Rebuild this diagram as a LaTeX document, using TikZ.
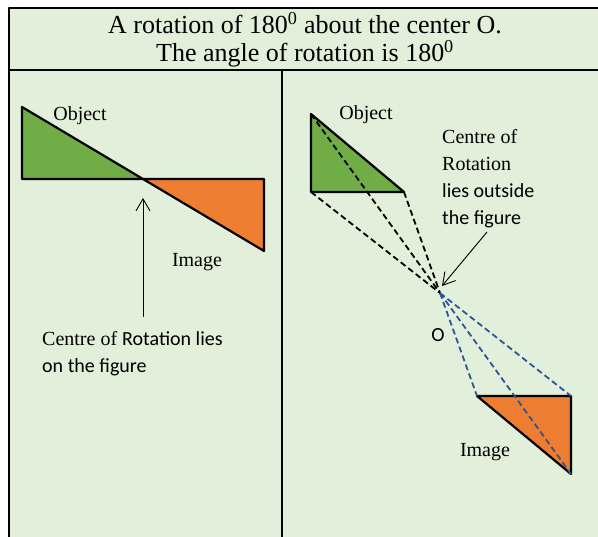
\documentclass[tikz,border=0pt]{standalone}
\usepackage{fontspec}
\setmainfont{Liberation Serif}
\newfontfamily\calibri{Carlito}
\usepackage{xcolor}
\usetikzlibrary{arrows.meta,positioning}
\definecolor{panelgreen}{HTML}{E2EFDA}
\definecolor{objgreen}{HTML}{70AD47}
\definecolor{imgorange}{HTML}{ED7D31}
\definecolor{raynavy}{HTML}{2F5597}
\tikzset{
    every picture/.style={line join=round},
    frameline/.style={draw=black,line width=2pt},
    objtri/.style={draw=black,fill=objgreen,line width=2.2pt},
    imgtri/.style={draw=black,fill=imgorange,line width=2.2pt},
    rayblack/.style={draw=black,line width=1.8pt,dash pattern=on 6pt off 3.5pt},
    rayblue/.style={draw=raynavy,line width=1.8pt,dash pattern=on 6pt off 3.5pt},
    pointer/.style={-{Straight Barb[length=12pt,width=14pt]},draw=black,line width=0.9pt},
    lbl/.style={inner sep=0pt,font=\fontsize{20}{27}\selectfont,align=left}
}
\begin{document}
\begin{tikzpicture}[x=1pt,y=-1pt]
  \useasboundingbox (0,0) rectangle (598,537);
  \fill[panelgreen] (9,8) rectangle (598,537);
  % table frame
  \draw[frameline] (9,537) -- (9,8) -- (598,8);
  \draw[frameline] (9,70) -- (598,70);
  \draw[frameline] (282,70) -- (282,537);
  \node[inner sep=0pt,align=center,font=\fontsize{26}{28}\selectfont] (title) at (305,40)
    {A rotation of 180\textsuperscript{0} about the center O.\\The angle of rotation is 180\textsuperscript{0}};

  % left panel: centre on the figure
  \coordinate (la) at (22,107);
  \coordinate (lb) at (22,179);
  \coordinate (lc) at (143,179);
  \coordinate (ld) at (264,179);
  \coordinate (le) at (264,251);
  \draw[objtri] (la) -- (lb) -- (lc) -- cycle;
  \draw[imgtri] (lc) -- (ld) -- (le) -- cycle;
  \node[lbl] (lobj) at (80,116) {Object};
  \node[lbl] (limg) at (197,262) {Image};
  \node[lbl,anchor=west] (lnote) at (42,354)
    {Centre of {\calibri Rotation lies}\\{\calibri on the figure}};
  \coordinate (ltail) at (143,317);
  \draw[pointer] (ltail) -- ([yshift=-19pt]lc);

  % right panel: centre outside the figure
  \coordinate (ra) at (311,114);
  \coordinate (rb) at (311,192);
  \coordinate (rc) at (404,192);
  \coordinate (ro) at (440,293);
  \coordinate (rd) at (477,396);
  \coordinate (re) at (571,396);
  \coordinate (rf) at (571,474);
  \draw[objtri] (ra) -- (rb) -- (rc) -- cycle;
  \draw[imgtri] (rd) -- (re) -- (rf) -- cycle;
  \foreach \v in {ra,rb,rc} \draw[rayblack] (\v) -- (ro);
  \foreach \v in {rd,re,rf} \draw[rayblue] (ro) -- (\v);
  \node[lbl] (robj) at (366,115) {Object};
  \node[lbl] (rimg) at (485,452) {Image};
  \node[lbl,font=\fontsize{20}{27}\selectfont\calibri] (rO) at (438,335) {O};
  \node[lbl,anchor=west] (rnote) at (442,179)
    {Centre of\\Rotation\\{\calibri lies outside}\\{\calibri the figure}};
  \coordinate (rtail) at (487,232);
  \draw[pointer] (rtail) -- ([xshift=2pt,yshift=7pt]ro);
\end{tikzpicture}
\end{document}
